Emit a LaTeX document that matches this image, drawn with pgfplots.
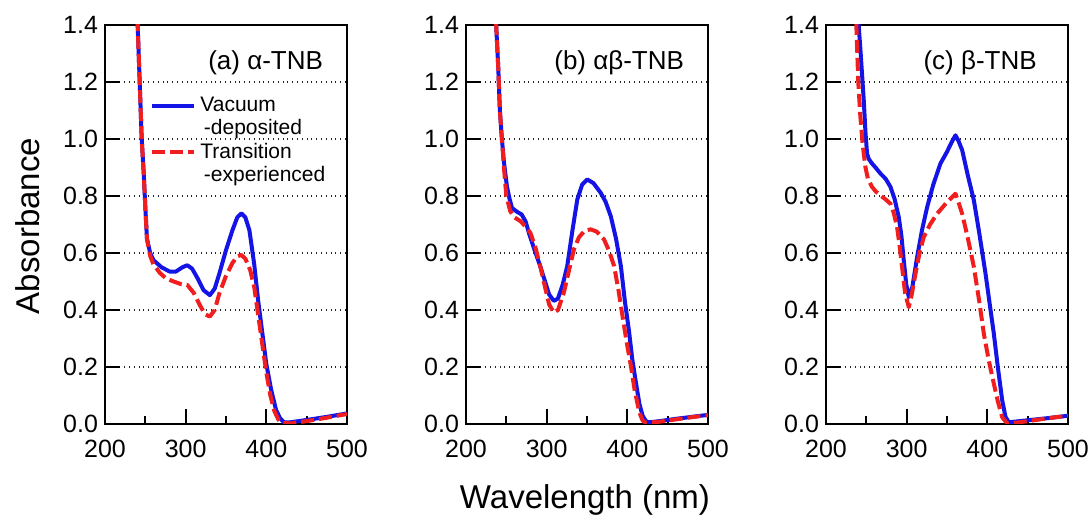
\documentclass[border=0pt]{standalone}
\usepackage{fontspec}
\setmainfont{Liberation Sans}
\usepackage{pgfplots}
\pgfplotsset{compat=1.18}

\definecolor{vacblue}{RGB}{20,20,230}
\definecolor{trared}{RGB}{240,30,30}

\pgfplotsset{
  panel/.style={
    scale only axis, width=121pt, height=199.5pt, anchor=south west,
    xmin=200, xmax=500, ymin=0, ymax=1.4,
    xtick={200,300,400,500}, minor xtick={250,350,450},
    ytick={0,0.2,0.4,0.6,0.8,1.0,1.2,1.4},
    yticklabel style={/pgf/number format/.cd, fixed, fixed zerofill, precision=1},
    xticklabel style={yshift=-4.5pt},
    /pgf/number format/assume math mode=true,
    tick align=inside, tick pos=left,
    major tick length=7.5pt, minor tick length=4pt,
    every tick/.style={black, line width=1pt},
    axis line style={line width=1pt},
    ymajorgrids, major grid style={dotted, black!85, line width=0.6pt},
    tick label style={font=\fontsize{12.5}{14}\selectfont},
  },
  vac/.style={color=vacblue, line width=2pt, line join=round},
  tra/.style={color=trared, line width=2pt, line join=round, dash pattern=on 6.5pt off 2.5pt},
}

\begin{document}
\begin{tikzpicture}
\path[use as bounding box] (0,0) rectangle (544.5pt,261pt);

% (a) alpha-TNB
\begin{axis}[panel, at={(52.5pt,49pt)},
    legend style={draw=none, fill=none, at={(0.186,0.83)}, anchor=north west,
      font=\fontsize{10.5}{12}\selectfont, row sep=-1.5pt, inner sep=0pt},
    legend cell align=left,
    legend image code/.code={\draw[#1] (0pt,0pt) -- (21pt,0pt);}]
\addplot[vac] coordinates {
(238,1.55)(240.5,1.40)(243,1.20)(245.5,1.00)(248,0.88)(250,0.76)(252,0.65)(256,0.60)
(260,0.575)(270,0.55)(280,0.535)(288,0.535)(296,0.550)(302,0.557)(308,0.545)(315,0.51)
(322,0.47)(330,0.452)(336,0.475)(342,0.53)(350,0.61)(358,0.68)(364,0.725)(369,0.739)
(374,0.725)(379,0.68)(385,0.56)(390,0.43)(395,0.32)(400,0.21)(406,0.12)(412,0.05)
(417,0.02)(422,0.006)(430,0.006)(450,0.014)(475,0.025)(500,0.037)};
\addlegendentry{Vacuum}
\addlegendimage{empty legend}
\addlegendentry{\,-deposited}
\addplot[tra] coordinates {
(238,1.55)(240.5,1.40)(243,1.20)(245.5,1.00)(248,0.88)(250,0.76)(252,0.65)(256,0.59)
(260,0.56)(268,0.53)(276,0.51)(285,0.50)(295,0.49)(302,0.488)(310,0.46)(318,0.415)
(324,0.385)(330,0.377)(336,0.40)(342,0.46)(350,0.52)(358,0.565)(364,0.588)(369,0.593)
(374,0.58)(380,0.54)(385,0.48)(390,0.38)(395,0.28)(400,0.18)(405,0.10)(410,0.045)
(415,0.015)(420,0.004)(430,0.002)(450,0.01)(475,0.022)(500,0.035)};
\addlegendentry{Transition}
\addlegendimage{empty legend}
\addlegendentry{\,-experienced}
\node[anchor=east, font=\fontsize{13}{15}\selectfont] at (rel axis cs:0.93,0.905) {(a) α-TNB};
\end{axis}

% (b) alpha-beta-TNB
\begin{axis}[panel, at={(233pt,49pt)}]
\addplot[vac] coordinates {
(235,1.6)(237.4,1.40)(240,1.25)(242,1.10)(244.5,1.00)(247,0.92)(250.7,0.834)(254,0.79)
(257,0.758)(263,0.745)(269,0.735)(274,0.71)(278,0.67)(285,0.61)(292,0.554)(298,0.50)
(303,0.455)(308.8,0.432)(314,0.44)(320,0.49)(325.5,0.554)(332,0.68)(338,0.788)(344,0.84)
(350.4,0.858)(358,0.845)(367,0.811)(373,0.78)(379.5,0.729)(386,0.65)(392,0.554)(397,0.43)
(402.3,0.321)(406,0.23)(410.6,0.146)(415,0.07)(419,0.029)(423,0.01)(427,0.006)(440,0.01)
(460,0.018)(480,0.025)(500,0.032)};
\addplot[tra] coordinates {
(235,1.6)(237.4,1.40)(240,1.25)(242,1.10)(244.5,1.00)(247,0.90)(250,0.80)(254.8,0.747)
(260,0.725)(267.3,0.712)(273,0.695)(279.8,0.671)(286,0.62)(292,0.554)(298,0.48)(303,0.42)
(308.8,0.391)(314,0.40)(321.3,0.461)(327,0.53)(333.8,0.613)(340,0.655)(347,0.678)
(354.5,0.683)(362,0.675)(371,0.648)(377,0.61)(383.6,0.554)(389,0.47)(394,0.379)(399,0.29)
(404.4,0.204)(409,0.12)(414.8,0.041)(419,0.012)(423,0.004)(440,0.008)(460,0.016)
(480,0.024)(500,0.031)};
\node[anchor=east, font=\fontsize{13}{15}\selectfont] at (rel axis cs:0.93,0.905) {(b) αβ-TNB};
\end{axis}

% (c) beta-TNB
\begin{axis}[panel, at={(413pt,49pt)}]
\addplot[vac] coordinates {
(238,1.6)(240.5,1.40)(243,1.30)(246.8,1.136)(249,1.02)(250.9,0.949)(253,0.93)(257,0.914)
(262,0.898)(267.4,0.879)(274,0.86)(279.9,0.832)(285,0.79)(290.2,0.726)(293.5,0.66)
(296.4,0.574)(299.5,0.49)(302.6,0.445)(307,0.48)(313,0.586)(319,0.68)(325.4,0.761)
(333,0.84)(341.9,0.914)(350,0.955)(356,0.99)(360.5,1.013)(364,0.995)(368.8,0.961)
(376,0.87)(383.3,0.785)(390,0.67)(397.8,0.527)(403,0.42)(408.1,0.316)(413,0.2)
(418.5,0.082)(422.5,0.025)(426.7,0.006)(440,0.01)(460,0.016)(480,0.022)(500,0.029)};
\addplot[tra] coordinates {
(235,1.6)(237.6,1.40)(240,1.20)(242.6,1.078)(245.5,0.98)(248.8,0.902)(252,0.86)(257,0.832)
(262,0.815)(267.4,0.802)(273,0.79)(279.9,0.773)(284,0.74)(288.1,0.691)(291,0.63)
(294.3,0.551)(298,0.46)(302.6,0.41)(306,0.45)(310.9,0.527)(316,0.60)(321.2,0.656)
(329,0.70)(337.8,0.738)(349,0.775)(356,0.795)(360.5,0.808)(364,0.78)(368.8,0.738)
(376,0.65)(383.3,0.551)(390,0.43)(395.7,0.316)(402,0.22)(408.1,0.141)(413,0.08)
(418.5,0.023)(424.7,0.002)(440,0.006)(460,0.014)(480,0.022)(500,0.029)};
\node[anchor=east, font=\fontsize{13}{15}\selectfont] at (rel axis cs:0.90,0.905) {(c) β-TNB};
\end{axis}

\node[rotate=90, font=\fontsize{16.5}{18}\selectfont] at (14pt,148pt) {Absorbance};
\node[font=\fontsize{16.5}{18}\selectfont] at (292.5pt,11pt) {Wavelength (nm)};
\end{tikzpicture}
\end{document}
